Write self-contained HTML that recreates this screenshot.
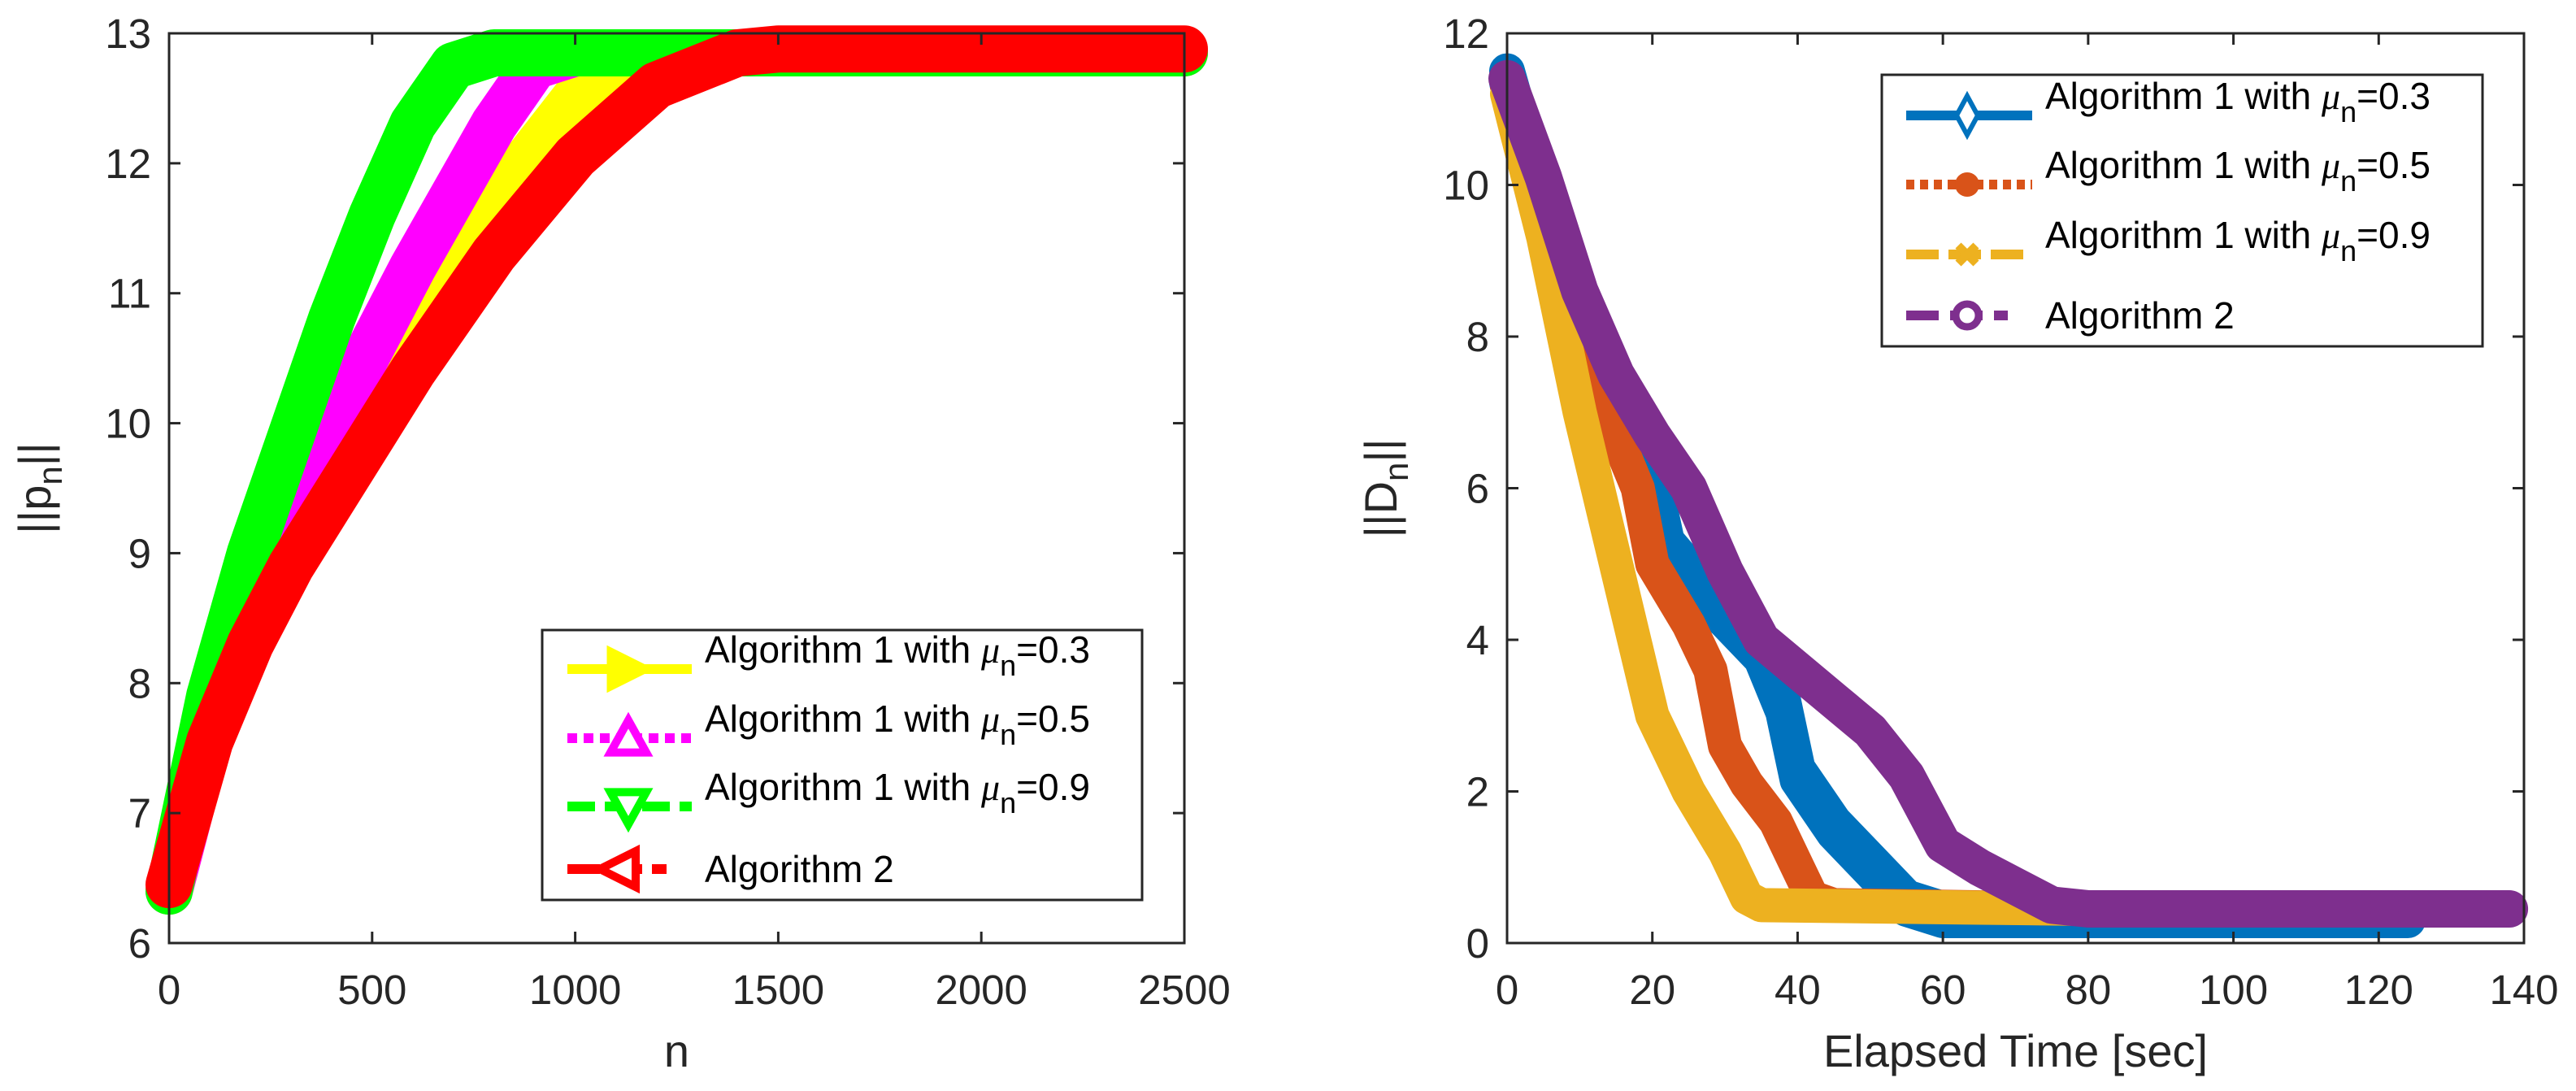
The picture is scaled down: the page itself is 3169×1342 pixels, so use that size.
<!DOCTYPE html>
<html><head><meta charset="utf-8"><style>
html,body{margin:0;padding:0;background:#fff;}
svg{display:block;font-family:"Liberation Sans",sans-serif;}
</style></head><body>
<svg id="fig" width="3169" height="1342" viewBox="0 0 3169 1342" xmlns="http://www.w3.org/2000/svg">
<g id="left"></g>
<g id="right"></g>
</svg>
<script>
// ---- Left chart data ----
const leftXTicks = [0, 500, 1000, 1500, 2000, 2500];
const leftYTicks = [6, 7, 8, 9, 10, 11, 12, 13];
const leftNames = ["mu-0.3", "mu-0.5", "mu-0.9", "algorithm-2"];
const leftColors = ["#ffff00", "#ff00ff", "#00ff00", "#ff0000"];
const l03x = [0, 100, 200, 400, 600, 800, 1000, 1100, 1200, 2500];
const l03y = [6.4, 7.6, 8.35, 9.5, 10.6, 11.7, 12.5, 12.8, 12.85, 12.85];
const l05x = [0, 100, 200, 400, 600, 800, 900, 1000, 2500];
const l05y = [6.4, 7.6, 8.5, 10.0, 11.2, 12.3, 12.75, 12.85, 12.85];
const l09x = [0, 100, 200, 300, 400, 500, 600, 700, 800, 2500];
const l09y = [6.4, 7.9, 9.0, 9.9, 10.8, 11.6, 12.3, 12.75, 12.85, 12.85];
const l2x = [0, 100, 200, 300, 400, 500, 600, 800, 1000, 1200, 1400, 1500, 2500];
const l2y = [6.45, 7.55, 8.3, 8.9, 9.4, 9.9, 10.4, 11.3, 12.05, 12.6, 12.85, 12.88, 12.88];
// ---- Right chart data ----
const rightXTicks = [0, 20, 40, 60, 80, 100, 120, 140];
const rightYTicks = [0, 2, 4, 6, 8, 10, 12];
const rightColors = ["#0072bd", "#d95319", "#edb120", "#7e2f8e"];
const r03x = [0, 5, 10, 15, 20, 22, 30, 35, 38, 40, 45, 50, 55, 60, 124];
const r03y = [11.5, 9.8, 8.0, 7.0, 6.2, 5.3, 4.4, 3.9, 3.2, 2.3, 1.6, 1.1, 0.6, 0.45, 0.45];
const r05x = [0, 5, 10, 15, 18, 20, 25, 28, 30, 33, 37, 40, 42, 45, 80];
const r05y = [11.3, 9.5, 7.8, 6.7, 6.0, 5.0, 4.2, 3.6, 2.6, 2.1, 1.6, 1.0, 0.6, 0.5, 0.45];
const r09x = [0, 5, 10, 15, 20, 25, 30, 33, 35, 80];
const r09y = [11.2, 9.3, 7.0, 5.0, 3.0, 2.0, 1.2, 0.6, 0.5, 0.45];
const r2x = [0, 5, 10, 15, 20, 25, 30, 35, 40, 45, 50, 55, 60, 65, 70, 75, 80, 138];
const r2y = [11.4, 10.1, 8.6, 7.5, 6.7, 6.0, 4.9, 4.0, 3.6, 3.2, 2.8, 2.2, 1.3, 1.0, 0.75, 0.5, 0.45, 0.45];

const NS = "http://www.w3.org/2000/svg";
function mk(tag, attrs, parent){const e=document.createElementNS(NS,tag);for(const k in attrs)e.setAttribute(k,attrs[k]);parent.appendChild(e);return e;}

function axes(g, box, xr, yr, xt, yt, xlabel, ylabelMain, ylabelX){
  const sx=v=>box.x0+(v-xr[0])/(xr[1]-xr[0])*(box.x1-box.x0);
  const sy=v=>box.y1-(v-yr[0])/(yr[1]-yr[0])*(box.y1-box.y0);
  return {sx,sy,draw(){
    const fr=mk('rect',{x:box.x0,y:box.y0,width:box.x1-box.x0,height:box.y1-box.y0,fill:'none',stroke:'#262626','stroke-width':3},g);
    
    
    xt.forEach(v=>{
      const x=sx(v);
      mk('line',{x1:x,y1:box.y1,x2:x,y2:box.y1-14,stroke:'#262626','stroke-width':3},g);
      mk('line',{x1:x,y1:box.y0,x2:x,y2:box.y0+14,stroke:'#262626','stroke-width':3},g);
      const t=mk('text',{x:x,y:box.y1+75,'font-size':51,fill:'#262626','text-anchor':'middle'},g);
      t.textContent=v;
      
      
    });
    yt.forEach(v=>{
      const y=sy(v);
      mk('line',{x1:box.x0,y1:y,x2:box.x0+14,y2:y,stroke:'#262626','stroke-width':3},g);
      mk('line',{x1:box.x1,y1:y,x2:box.x1-14,y2:y,stroke:'#262626','stroke-width':3},g);
      const t=mk('text',{x:box.x0-22,y:y+18,'font-size':51,fill:'#262626','text-anchor':'end'},g);
      t.textContent=v;
      
      
    });
    const xl=mk('text',{x:(box.x0+box.x1)/2,y:1312,'font-size':56,fill:'#262626','text-anchor':'middle'},g);
    xl.textContent=xlabel;
    
    
    const cy=(box.y0+box.y1)/2;
    const yl=mk('text',{x:ylabelX,y:cy,'font-size':56,fill:'#262626','text-anchor':'middle',transform:`rotate(-90 ${ylabelX} ${cy})`},g);
    yl.innerHTML='||'+ylabelMain+'<tspan dy="14" font-size="42">n</tspan><tspan dy="-14">||</tspan>';
    
    
  }};
}

function series(g, A, xs, ys, color, w, name, dy){
  const off=dy||0;
  const pts=xs.map((x,i)=>A.sx(x).toFixed(1)+','+(A.sy(ys[i])+off).toFixed(1)).join(' ');
  const p=mk('polyline',{points:pts,fill:'none',stroke:color,'stroke-width':w,'stroke-linejoin':'round','stroke-linecap':'round'},g);
  
  
}

function marker(g, type, cx, cy, color){
  const s=22;
  if(type==='right') mk('polygon',{points:`${cx-s},${cy-s} ${cx+s},${cy} ${cx-s},${cy+s}`,fill:color,stroke:color,'stroke-width':9},g);
  if(type==='up') mk('polygon',{points:`${cx-s},${cy+s*0.8} ${cx},${cy-s} ${cx+s},${cy+s*0.8}`,fill:'#fff',stroke:color,'stroke-width':10},g);
  if(type==='down') mk('polygon',{points:`${cx-s},${cy-s*0.8} ${cx},${cy+s} ${cx+s},${cy-s*0.8}`,fill:'#fff',stroke:color,'stroke-width':10},g);
  if(type==='left') mk('polygon',{points:`${cx+s},${cy-s} ${cx-s},${cy} ${cx+s},${cy+s}`,fill:'#fff',stroke:color,'stroke-width':10},g);
  if(type==='diamond') mk('polygon',{points:`${cx},${cy-24} ${cx+13},${cy} ${cx},${cy+24} ${cx-13},${cy}`,fill:'#fff',stroke:color,'stroke-width':6},g);
  if(type==='dot') mk('circle',{cx,cy,r:15,fill:color},g);
  if(type==='x'){mk('line',{x1:cx-11,y1:cy-11,x2:cx+11,y2:cy+11,stroke:color,'stroke-width':10},g);mk('line',{x1:cx-11,y1:cy+11,x2:cx+11,y2:cy-11,stroke:color,'stroke-width':10},g);}
  if(type==='ocircle') mk('circle',{cx,cy,r:14,fill:'#fff',stroke:color,'stroke-width':9},g);
}

function legend(g, box, entries, lx0, lx1, tx){
  const lg=mk('g',{},g);
  
  
  mk('rect',{x:box.x,y:box.y,width:box.w,height:box.h,fill:'#fff',stroke:'#262626','stroke-width':3},lg);
  entries.forEach(e=>{
    const eg=mk('g',{},lg);
    
    
    const a={x1:lx0,y1:e.y,x2:e.x2||lx1,y2:e.y,stroke:e.color,'stroke-width':12};
    if(e.dash) a['stroke-dasharray']=e.dash;
    mk('line',a,eg);
    marker(eg,e.marker,e.mx,e.y,e.color);
    const t=mk('text',{x:tx,y:e.y+(e.mu?-8:16),'font-size':46,fill:'#000'},eg);
    if(e.mu){t.innerHTML='Algorithm 1 with <tspan font-family="Liberation Serif" font-style="italic">μ</tspan><tspan dy="16" font-size="36">n</tspan><tspan dy="-16">='+e.mu+'</tspan>';}
    else t.textContent='Algorithm 2';
  });
}

// Left chart
const gl=document.getElementById('left');
const A=axes(gl,{x0:208,x1:1457,y0:41,y1:1160},[0,2500],[6,13],leftXTicks,leftYTicks,'n','p',62);
const lxs=[l03x,l05x,l09x,l2x], lys=[l03y,l05y,l09y,l2y];
lxs.forEach((xs,i)=>series(gl,A,xs,lys[i],leftColors[i],58,'line-'+leftNames[i]));
A.draw();
legend(gl,{x:667,y:775,w:738,h:332},[
 {y:823,color:'#ffff00',marker:'right',mx:773,mu:'0.3'},
 {y:908,color:'#ff00ff',marker:'up',mx:773,mu:'0.5',dash:'12 8'},
 {y:992,color:'#00ff00',marker:'down',mx:773,mu:'0.9',dash:'34 12'},
 {y:1069,color:'#ff0000',marker:'left',mx:760,dash:'40 12',x2:820}
],698,851,867);

// Right chart
const gr=document.getElementById('right');
const B=axes(gr,{x0:1854,x1:3105,y0:41,y1:1160},[0,140],[0,12],rightXTicks,rightYTicks,'Elapsed Time [sec]','D',1718);
const rxs=[r03x,r05x,r09x,r2x], rys=[r03y,r05y,r09y,r2y];
const rw=[44,42,42,46];
series(gr,B,r03x,r03y,rightColors[0],44,'line-mu-0.3-lower-band',14);
rxs.forEach((xs,i)=>series(gr,B,xs,rys[i],rightColors[i],rw[i],'line-'+leftNames[i]));
B.draw();
legend(gr,{x:2315,y:92,w:739,h:334},[
 {y:142,color:'#0072bd',marker:'diamond',mx:2420,mu:'0.3'},
 {y:227,color:'#d95319',marker:'dot',mx:2420,mu:'0.5',dash:'10 7'},
 {y:313,color:'#edb120',marker:'x',mx:2420,mu:'0.9',dash:'40 12'},
 {y:388,color:'#7e2f8e',marker:'ocircle',mx:2420,dash:'40 14',x2:2470}
],2345,2500,2516);
</script>
</body></html>
